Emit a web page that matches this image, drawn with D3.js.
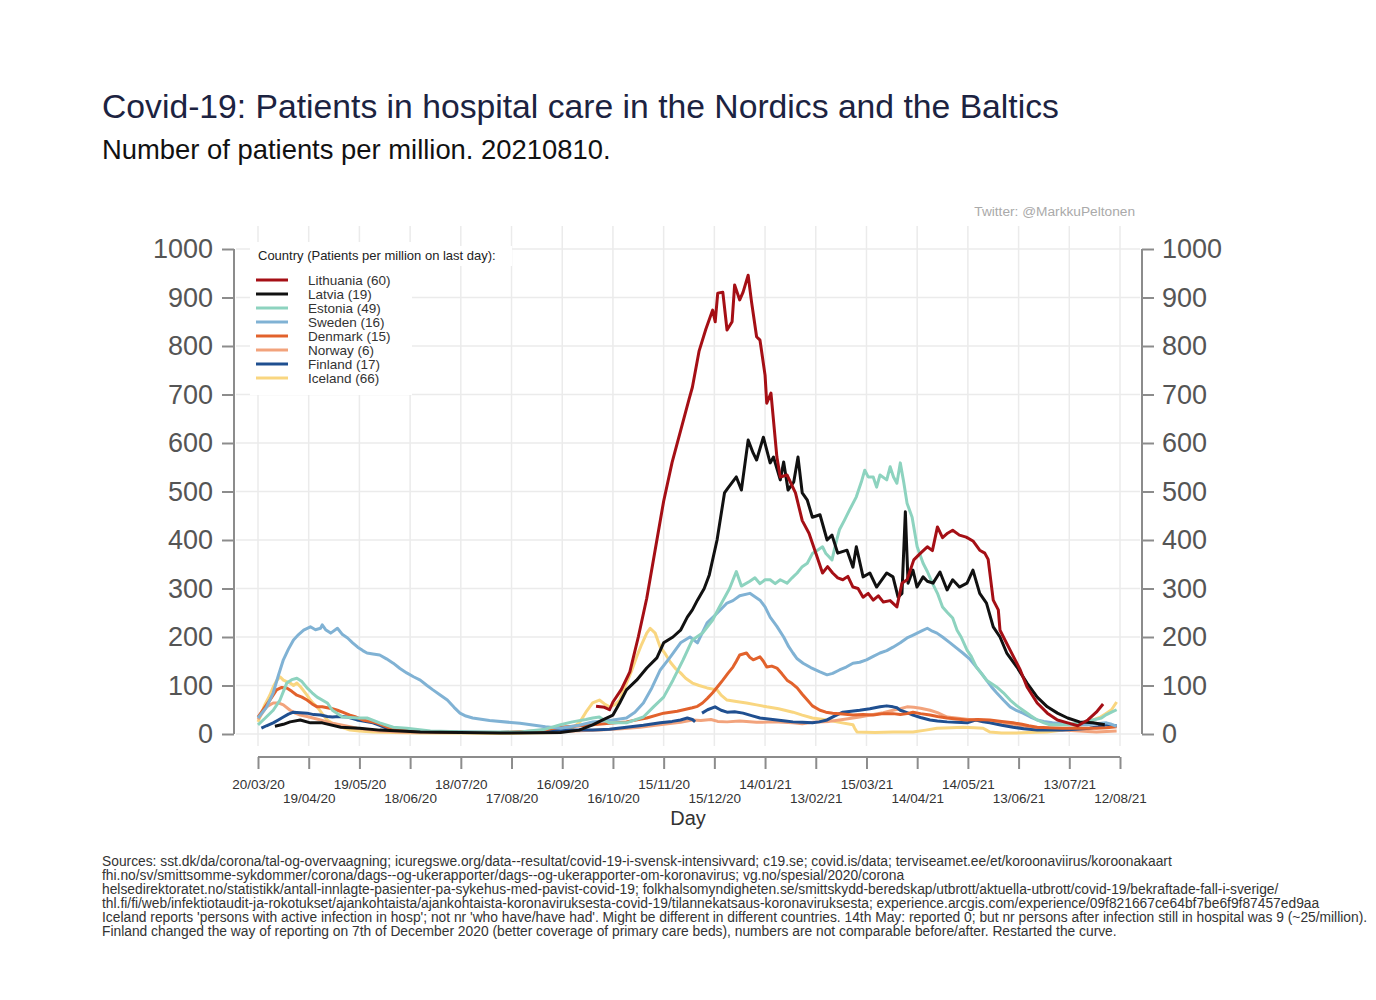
<!DOCTYPE html>
<html>
<head>
<meta charset="utf-8">
<script src="https://cdn.jsdelivr.net/npm/d3@7"></script>
<style>
  body { margin: 0; background: #fff; }
  text { font-family: "Liberation Sans", Arial, Helvetica, sans-serif; }
</style>
</head>
<body>
<div id="plot"></div>
<script>
/* data: [day since 20/03/20, patients per million] */
var countries = ['Lithuania', 'Latvia', 'Estonia', 'Sweden', 'Denmark', 'Norway', 'Finland', 'Iceland'];
var lastDay = [60, 19, 49, 16, 15, 6, 17, 66];
var colors = ['#a50f15', '#111111', '#8dd3bf', '#80b2d4', '#e2622c', '#f2a37c', '#1f4f90', '#f9d680'];

var lithuania = [[200,57],[205,55],[208,50],[210,66],[215,92],[220,128],[225,200],[230,280],[235,380],[240,480],[245,560],
  [250,625],[255,690],[257,715],[261,790],[265,835],[269,874],[270.5,850],[272,909],[275,911],[277.5,833],[280.5,850],
  [282,926],[285,895],[287,911],[290,946],[292,891],[295,819],[297,812],[300,740],[301,682],[303.5,703],[307,571],
  [309,530],[313,534],[318,497],[322,440],[326,414],[330,373],[334,332],[337,345],[340,332],[343,322],[346,318],[349,325],
  [352,303],[355,300],[358,282],[361,290],[364,276],[367,285],[370,272],[374,275],[378,262],[381,311],[384,318],[388,359],
  [392,373],[396,386],[399,378],[402,427],[405,405],[408,414],[411,420],[415,410],[419,406],[423,398],[427,379],[430,373],
  [432,360],[435,276],[438,256],[439,214],[445,173],[451,132],[455,97],[461,64],[467,43],[473,29],[479,23],[485,17],
  [491,29],[496,45],[500,62]];

var latvia = [[10,16],[15,20],[19,25],[25,29],[31,23],[38,23],[49,14],[60,12],[72,8],[96,4],[143,2],[179,3],[190,8],
  [198,19],[204,29],[210,39],[214,64],[218,91],[224,111],[230,136],[236,157],[240,188],[245.5,200],[250,214],[254,241],
  [257,256],[260,276],[264,300],[267,328],[271.6,400],[276,497],[278,507],[283,530],[286,503],[290,606],[293,579],
  [295,565],[299,612],[303,559],[305,571],[309,524],[311,561],[313.6,503],[317,520],[319.5,571],[322,497],[325,482],
  [328,447],[332.5,452],[336.7,400],[339.6,410],[343,373],[348.5,379],[352,344],[354,386],[358,324],[362,332],[366,303],
  [372,332],[375.7,324],[378.7,282],[381,290],[383,458],[384.6,311],[387.5,338],[389.9,303],[393.5,324],[396,315],
  [399.4,311],[403.5,334],[407.7,297],[411,318],[415,303],[419.5,311],[423,338],[427,290],[431,270],[435,221],[439,200],
  [443,167],[449,138],[455,105],[461,76],[467,56],[473,43],[479,33],[486,25],[494,23],[501,19]];

var estonia = [[0,19],[4,32],[9,49],[13,70],[17,105],[20,112],[23,115],[26,108],[29,95],[32,85],[35,76],[41,64],[44,49],
  [50,35],[59,33],[64.5,33],[72,23],[80,14],[88,12],[102,6],[125,4],[155,4],[170,10],[179,19],[186,25],[194,30],[198,33],
  [202,35],[205,28],[208,23],[218,23],[228,35],[234,56],[240,76],[245.5,111],[251.5,153],[257,194],[263,208],[269,235],
  [273,262],[279,300],[283,335],[286,305],[291,315],[294,322],[297,310],[300,318],[303,318],[306,310],[309,318],
  [313,311],[316,322],[319,332],[322,345],[325,352],[328,372],[331,379],[334,386],[336,372],[339.6,359],[342,395],
  [344,421],[347,441],[350,462],[354,489],[357,520],[359,544],[361,530],[364,530],[366,509],[368,534],[372,524],
  [374,551],[376,530],[378,517],[380,559],[382,520],[384,476],[387,447],[390,386],[393.5,352],[396,335],[399,311],
  [402,290],[405,262],[408,250],[411,239],[413.6,214],[416,200],[419.5,173],[422,160],[425,138],[428,125],[431,111],
  [437,97],[441,85],[445,70],[449,58],[452.6,49],[457,38],[461,29],[465,23],[468.6,19],[478.7,19],[486,23],[494,29],
  [499,33],[502,40],[505,45],[508,50]];

var sweden = [[0,33],[5,55],[9,85],[12,120],[15,153],[18,175],[21,194],[24,205],[27,214],[31,221],[34,215],[37,218],
  [38,225],[40,215],[43,208],[47,218],[50,205],[53,198],[56,188],[59,179],[62,172],[64.5,167],[68,165],[72,163],
  [76,155],[80,146],[84,135],[88,126],[92,118],[96,111],[100,100],[103.5,91],[108,80],[112,70],[116,55],[119.5,43],
  [123,37],[127,33],[137,28],[155,22],[170,15],[179,12],[190,18],[198,25],[210,29],[218,33],[223,45],[228,64],
  [233,95],[238,132],[244,159],[250,188],[255.6,200],[260,188],[265.7,229],[271.6,249],[277.5,270],[281,275],[285,285],
  [291,290],[294,283],[297,276],[300,262],[303,241],[307,222],[311,200],[314,180],[316.5,167],[319,155],[322.5,146],
  [327,137],[332.5,128],[336.7,122],[340,125],[344,132],[348,138],[352,146],[356,148],[360,153],[364,160],[368,167],
  [372,172],[375.7,179],[380,188],[384,198],[387,203],[390,208],[393,213],[396,218],[399,212],[401.7,208],[405,200],
  [409.5,188],[413,178],[417,167],[421,155],[425,138],[428,125],[431,111],[434,97],[437,85],[441,70],[445,56],
  [449,48],[452.6,43],[457,35],[461,29],[465,26],[470,23],[480,19],[490.5,19],[496,21],[502,23],[505,20],[508,16]];

var denmark = [[0,35],[4,55],[7,70],[11,91],[14,96],[17,95],[20,88],[23,80],[26,76],[29,70],[32,62],[35,56],[38,56],
  [41,54],[44,52],[47,49],[50,45],[54.4,39],[58,35],[62,29],[66,26],[70,23],[74,18],[78,12],[84,9],[90,6],[113.6,3],
  [143,3],[165,6],[179,14],[198,19],[218,25],[230,33],[240,43],[248,47],[257,54],[260,57],[263,64],[266,74],[269,85],
  [272,98],[275,111],[278,125],[281,138],[283,150],[285,163],[287,165],[289,167],[291,158],[293,153],[295,156],
  [297,159],[299,150],[301,138],[304,140],[307,136],[310,124],[313,111],[316,104],[319,95],[322,82],[325,70],
  [328,58],[332.5,49],[336,45],[340,43],[346,41],[352,39],[358,40],[364,39],[370,42],[375.7,42],[380,40],[384,42],
  [387.5,45],[392,42],[397.6,39],[402,36],[407.7,33],[413,31],[419.5,29],[426,30],[433,29],[440,26],[446.7,23],
  [452,20],[456,17],[461,14],[468,13],[476,12],[486,12],[496,12],[502,13],[508,15]];

var norway = [[0,30],[5,56],[9,64],[12,64],[15,60],[19,49],[22,43],[25,39],[29,36],[32.5,33],[37,29],[41,25],
  [44,22],[48.5,19],[53,16],[58.6,12],[65,9],[72,6],[84,4],[96,3],[143,3],[160,4],[179,5],[202,8],[215,11],[226,14],
  [240,20],[250,24],[257,29],[262,28],[268,30],[272,26],[277.5,25],[285,27],[295,24],[305,25],[316.5,23],[322,21],
  [328,24],[338,26],[346,30],[356,35],[364,40],[370,44],[375.7,49],[380,52],[384,56],[388,55],[392,53],[397.6,49],
  [402,44],[407.7,35],[413,33],[418,31],[423,29],[430,26],[437,23],[445,19],[451,16],[456.8,14],[466,10],[476,8],
  [486,6],[496,4],[502,5],[508,6]];

var finland = [[2,12],[5,17],[9,23],[12,29],[15,35],[18,41],[21,45],[25,44],[29,43],[33,40],[37,39],[41,36],[44,35],
  [48,36],[53,35],[56,32],[58.6,29],[63,26],[68,23],[72,18],[76,12],[82,10],[88,8],[100,5],[113.6,4],[143,3],[160,4],
  [179,8],[198,8],[208,10],[218,14],[228,18],[238,23],[245,26],[250,29],[254,33],[257,30],[258.6,25],[259.5,null],
  [262.7,43],[266,50],[270.4,56],[274,49],[277.5,45],[282,46],[287,43],[292,38],[297,33],[302,31],[307,29],[312,27],
  [316.5,25],[322,24],[328,23],[332,25],[336.7,29],[341,37],[346,45],[351,47],[356,49],[362,52],[368,56],[372,58],
  [375.7,56],[378,54],[380,49],[384,44],[387.5,39],[392,34],[397.6,29],[402,27],[407.7,25],[413,24],[419.5,23],
  [425,29],[429,25],[433,23],[440,18],[446.7,14],[453,11],[461,8],[468,8],[476,8],[484,10],[492,12],[497,15],[502,19],
  [505,18],[508,17]];

var iceland = [[0,25],[4,60],[7,80],[9,97],[11,110],[13,118],[15,111],[17,108],[19,105],[21,100],[23,105],[25,98],
  [26.6,91],[29,80],[31,70],[33,62],[35,56],[38,42],[41,29],[44,22],[47,19],[50,13],[54.4,8],[60,6],[68,4],[80,3],
  [96,2],[120,2],[143,1],[160,2],[179,3],[186,12],[190.5,25],[194,45],[198,64],[202,70],[205,62],[208,56],[211,60],
  [214,70],[218,105],[221,130],[224,159],[227,185],[230,208],[232,218],[235,208],[238,179],[241,165],[244,148],
  [247,135],[250,126],[253,115],[257,105],[261,100],[265.7,95],[271.6,91],[274,80],[277.5,70],[283,67],[289,64],
  [295,60],[301,56],[308,52],[316.5,45],[322,39],[328,33],[336.7,29],[344,24],[352,19],[353,12],[354.4,4],[365,3],
  [375.7,4],[387.5,4],[395,8],[401.7,12],[410,13],[417,14],[424,13],[429,12],[431,8],[433,4],[440,2],[446.7,2],
  [456,3],[466.8,4],[474,7],[482,12],[488,20],[494,29],[498,34],[502,43],[505,50],[508,66]];

var series = [lithuania, latvia, estonia, sweden, denmark, norway, finland, iceland];

var xTickLabels = ['20/03/20','19/04/20','19/05/20','18/06/20','18/07/20','17/08/20','16/09/20','16/10/20','15/11/20',
  '15/12/20','14/01/21','13/02/21','15/03/21','14/04/21','14/05/21','13/06/21','13/07/21','12/08/21'];
var yTicks = [0, 100, 200, 300, 400, 500, 600, 700, 800, 900, 1000];

var sources = [
  'Sources: sst.dk/da/corona/tal-og-overvaagning; icuregswe.org/data--resultat/covid-19-i-svensk-intensivvard; c19.se; covid.is/data;  terviseamet.ee/et/koroonaviirus/koroonakaart',
  'fhi.no/sv/smittsomme-sykdommer/corona/dags--og-ukerapporter/dags--og-ukerapporter-om-koronavirus; vg.no/spesial/2020/corona',
  'helsedirektoratet.no/statistikk/antall-innlagte-pasienter-pa-sykehus-med-pavist-covid-19; folkhalsomyndigheten.se/smittskydd-beredskap/utbrott/aktuella-utbrott/covid-19/bekraftade-fall-i-sverige/',
  'thl.fi/fi/web/infektiotaudit-ja-rokotukset/ajankohtaista/ajankohtaista-koronaviruksesta-covid-19/tilannekatsaus-koronaviruksesta; experience.arcgis.com/experience/09f821667ce64bf7be6f9f87457ed9aa',
  "Iceland reports 'persons with active infection in hosp'; not nr 'who have/have had'. Might be different in different countries. 14th May: reported 0; but nr persons after infection still in hospital was 9 (~25/million).",
  'Finland changed the way of reporting on 7th of December 2020 (better coverage of primary care beds), numbers are not comparable before/after. Restarted the curve.'
];

/* canvas */
var W = 1376, H = 1000;
var svg = d3.select('#plot').append('svg')
  .attr('width', W).attr('height', H);

var parse = d3.timeParse('%d/%m/%y');
var start = parse(xTickLabels[0]);
var end = parse(xTickLabels[xTickLabels.length - 1]);
function toDate(day) { return new Date(start.getTime() + day * 864e5); }

var x = d3.scaleTime().domain([start, end]).range([258, 1120]);
var y = d3.scaleLinear().domain([0, 1000]).range([734, 249]);

var tickDates = xTickLabels.map(parse);

/* grid */
var grid = svg.append('g').attr('class', 'grid');
grid.selectAll('.vgrid').data(tickDates).enter().append('line')
  .attr('x1', function (d) { return x(d); }).attr('x2', function (d) { return x(d); })
  .attr('y1', 226).attr('y2', 746)
  .style('stroke', '#ebebeb').style('stroke-width', 1.5);
grid.selectAll('.hgrid').data(yTicks).enter().append('line')
  .attr('x1', 236).attr('x2', 1140)
  .attr('y1', function (d) { return y(d); }).attr('y2', function (d) { return y(d); })
  .style('stroke', '#ebebeb').style('stroke-width', 1.5);

/* axes */
var axisColor = '#8c8c8c';
var yLeft = svg.append('g').attr('transform', 'translate(234,0)')
  .call(d3.axisLeft(y).tickValues(yTicks).tickFormat(d3.format('d')).tickSize(12).tickPadding(9));
var yRight = svg.append('g').attr('transform', 'translate(1142,0)')
  .call(d3.axisRight(y).tickValues(yTicks).tickFormat(d3.format('d')).tickSize(12).tickPadding(8));
var xAxis = svg.append('g').attr('transform', 'translate(0,757)')
  .call(d3.axisBottom(x).tickValues(tickDates).tickSize(12).tickFormat(d3.timeFormat('%d/%m/%y')));

[yLeft, yRight, xAxis].forEach(function (a) {
  a.select('.domain').style('stroke', axisColor).style('stroke-width', 2);
  a.selectAll('.tick line').style('stroke', axisColor).style('stroke-width', 2);
});
[yLeft, yRight].forEach(function (a) {
  a.select('.domain').attr('d', 'M0,' + y(1000) + 'V' + y(0));
  a.selectAll('.tick text').style('font-size', '27px').style('fill', '#555')
    .style('font-family', '"Liberation Sans", Arial, sans-serif');
});
xAxis.select('.domain').attr('d', 'M' + x(start) + ',0H' + x(end));
xAxis.selectAll('.tick text')
  .style('font-size', '13.5px').style('fill', '#333')
  .style('font-family', '"Liberation Sans", Arial, sans-serif')
  .attr('y', function (d, i) { return i % 2 === 0 ? 22 : 36; })
  .attr('dy', '0.71em');

svg.append('text').attr('x', 688).attr('y', 825).attr('text-anchor', 'middle')
  .style('font-size', '20px').style('fill', '#333').text('Day');

/* lines */
var line = d3.line()
  .defined(function (d) { return d[1] !== null; })
  .x(function (d) { return x(toDate(d[0])); })
  .y(function (d) { return y(d[1]); });

var order = [7, 5, 6, 4, 3, 2, 1, 0];
svg.append('g').selectAll('.country').data(order).enter().append('path')
  .attr('class', 'country')
  .attr('d', function (i) { return line(series[i]); })
  .style('fill', 'none')
  .style('stroke', function (i) { return colors[i]; })
  .style('stroke-width', 3)
  .style('stroke-linejoin', 'round');

/* legend */
var legend = svg.append('g').attr('transform', 'translate(250,242)');
legend.append('rect').attr('width', 162).attr('height', 153).style('fill', '#fff');
legend.append('rect').attr('x', 162).attr('y', 4).attr('width', 100).attr('height', 20).style('fill', '#fff');
legend.append('text').attr('x', 8).attr('y', 18).style('font-size', '13px').style('fill', '#222')
  .text('Country (Patients per million on last day):');
var items = legend.selectAll('.item').data(countries).enter().append('g')
  .attr('transform', function (d, i) { return 'translate(0,' + (38 + i * 14) + ')'; });
items.append('line').attr('x1', 6).attr('x2', 38).attr('y1', 0).attr('y2', 0)
  .style('stroke', function (d, i) { return colors[i]; }).style('stroke-width', 3);
items.append('text').attr('x', 58).attr('y', 5).style('font-size', '13.5px').style('fill', '#333')
  .text(function (d, i) { return d + ' (' + lastDay[i] + ')'; });

/* titles */
svg.append('text').attr('x', 102).attr('y', 118).style('font-size', '33.7px').style('fill', '#1c2341')
  .text('Covid-19: Patients in hospital care in the Nordics and the Baltics');
svg.append('text').attr('x', 102).attr('y', 159).style('font-size', '27.4px').style('fill', '#111')
  .text('Number of patients per million. 20210810.');
svg.append('text').attr('x', 1135).attr('y', 216).attr('text-anchor', 'end')
  .style('font-size', '13.7px').style('fill', '#aaa').text('Twitter: @MarkkuPeltonen');

svg.append('g').selectAll('text').data(sources).enter().append('text')
  .attr('x', 102).attr('y', function (d, i) { return 866 + i * 14; })
  .style('font-size', '13.8px').style('fill', '#333')
  .text(function (d) { return d; });
</script>
</body>
</html>
